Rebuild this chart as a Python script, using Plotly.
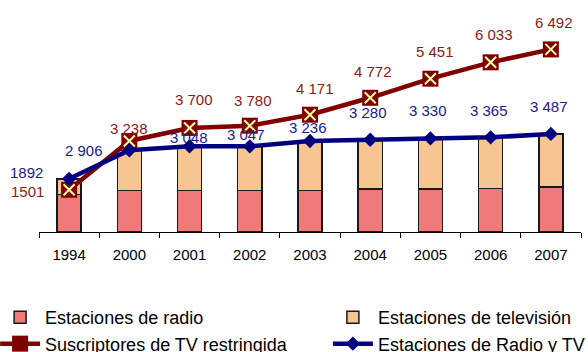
import plotly.graph_objects as go

years = ["1994", "2000", "2001", "2002", "2003", "2004", "2005", "2006", "2007"]
radio = [1330, 1475, 1475, 1475, 1480, 1535, 1535, 1540, 1595]
television = [562, 1431, 1573, 1572, 1756, 1745, 1795, 1825, 1892]
suscriptores = [1501, 3238, 3700, 3780, 4171, 4772, 5451, 6033, 6492]
radio_tv = [1892, 2906, 3048, 3047, 3236, 3280, 3330, 3365, 3487]

# label offsets (pixels) -- styling only
sus_dx = [-42, 0, 4, 3, 5, 3, 5, 3, 3]
sus_dy = [-2, 12, 28, 25, 26, 26, 27, 28, 27]
rtv_dx = [-43, -45, -1, -4, -2, -2, -2, -2, -2]
rtv_dy = [6, 0, 9, 12, 13, 27, 28, 27, 27]


def fmt(v, i):
    return str(v) if i == 0 else f"{v:,}".replace(",", " ")


FONT = "Liberation Sans, Arial, sans-serif"
RED = "#800000"
BLUE = "#000080"

fig = go.Figure()
fig.add_trace(go.Bar(x=years, y=radio, name="Estaciones de radio", legend="legend",
                     legendgroup="a",
                     marker=dict(color="#F07A7A", line=dict(color="#1a1a1a", width=1.5))))
fig.add_trace(go.Bar(x=years, y=television, name="Estaciones de televisión", legend="legend2",
                     legendgroup="b",
                     marker=dict(color="#F6C592", line=dict(color="#1a1a1a", width=1.5))))
fig.add_trace(go.Scatter(x=years, y=suscriptores, name="Suscriptores de TV restringida",
                         legend="legend", legendgroup="c",
                         mode="lines+markers",
                         line=dict(color=RED, width=4.5),
                         marker=dict(symbol="square", size=16, color=RED)))
fig.add_trace(go.Scatter(x=years, y=suscriptores, showlegend=False, hoverinfo="skip",
                         mode="markers",
                         marker=dict(symbol="x-thin-open", size=11, color="#FFFFAA",
                                     line=dict(color="#FFFFAA", width=2))))
fig.add_trace(go.Scatter(x=years, y=radio_tv, name="Estaciones de Radio y TV",
                         legend="legend2", legendgroup="d",
                         mode="lines+markers",
                         line=dict(color=BLUE, width=4.5),
                         marker=dict(symbol="diamond", size=11, color=BLUE)))

ann = []
for i in range(len(years)):
    ann.append(dict(x=i, y=suscriptores[i], text=fmt(suscriptores[i], i), showarrow=False,
                    xshift=sus_dx[i], yshift=sus_dy[i],
                    font=dict(family=FONT, size=15, color="#8B1A1A")))
    ann.append(dict(x=i, y=radio_tv[i], text=fmt(radio_tv[i], i), showarrow=False,
                    xshift=rtv_dx[i], yshift=rtv_dy[i],
                    font=dict(family=FONT, size=15, color="#1A1A8B")))

leg = dict(orientation="v", xanchor="left", y=-0.298, yanchor="top",
           font=dict(size=18, family=FONT), bgcolor="rgba(0,0,0,0)",
           traceorder="normal", tracegroupgap=3, itemwidth=40)

fig.update_layout(
    width=588, height=352,
    margin=dict(l=39, r=7, t=7, b=120, autoexpand=False),
    barmode="stack", bargap=0.6,
    plot_bgcolor="white", paper_bgcolor="white",
    font=dict(family=FONT, color="black"),
    annotations=ann,
    xaxis=dict(type="category", range=[-0.5, 8.5], showline=True, linecolor="black",
               linewidth=1, ticks="outside", tickson="boundaries", ticklen=5,
               tickcolor="black", tickfont=dict(size=15, family=FONT), showgrid=False,
               ticklabelstandoff=9),
    yaxis=dict(visible=False, range=[0, 8000]),
    legend=dict(leg, x=-0.081),
    legend2=dict(leg, x=0.533),
)

fig.write_html("out.html", config={"displayModeBar": False},
               post_script="document.body.style.margin='0';")
